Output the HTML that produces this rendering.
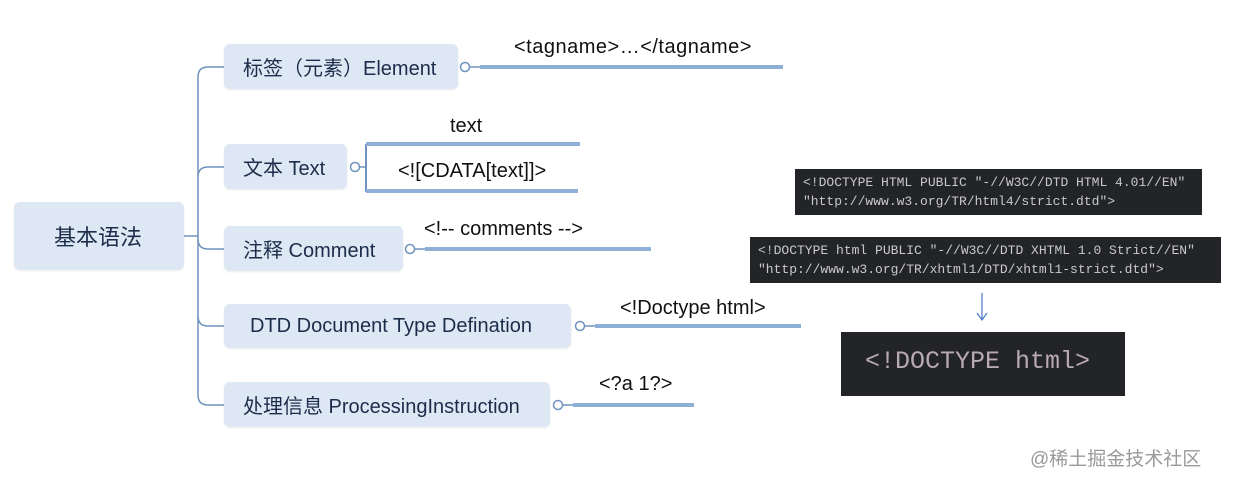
<!DOCTYPE html>
<html><head><meta charset="utf-8"><style>
body{margin:0;width:1233px;height:482px;background:#fff;position:relative;overflow:hidden;font-family:"Liberation Sans","Noto Sans CJK SC",sans-serif}
.n{position:absolute;background:#dde8f4;border-radius:6px;color:#1d2c4a;font-size:20px;display:flex;align-items:center;padding-left:19px;box-sizing:border-box;box-shadow:0 1px 2px rgba(0,0,0,.08);white-space:nowrap}
.l{position:absolute;font-size:20px;color:#111;white-space:nowrap}
.c{position:absolute;background:#222427;color:#c9c9c9;font-family:"Liberation Mono","DejaVu Sans Mono",monospace;font-size:13px;line-height:19px;padding:4px 8px;box-sizing:border-box;white-space:pre}
</style></head><body>
<svg width="1233" height="482" style="position:absolute;left:0;top:0">
<g fill="none" stroke="#6f93be" stroke-width="1.5">
<path d="M184 236 H198"/>
<path d="M224 67 H208 Q198 67 198 77 V395 Q198 405 208 405 H224"/>
<path d="M198 177 Q198 167 208 167 H224"/>
<path d="M198 239 Q198 249 208 249 H224"/>
<path d="M198 316 Q198 326 208 326 H224"/>
<circle cx="465" cy="67" r="4.5" fill="#fff"/><path d="M470 67 H480"/>
<circle cx="355" cy="167" r="4.5" fill="#fff"/><path d="M360 167 H366"/>
<circle cx="410" cy="249" r="4.5" fill="#fff"/><path d="M415 249 H425"/>
<circle cx="580" cy="326" r="4.5" fill="#fff"/><path d="M585 326 H595"/>
<circle cx="558" cy="405" r="4.5" fill="#fff"/><path d="M563 405 H573"/>
<path d="M366 144 V192" stroke-width="2"/>
</g>
<g stroke="#8fb0d6" stroke-width="4">
<path d="M480 67 H783"/><path d="M366 144 H580"/><path d="M366 191 H578"/>
<path d="M425 249 H651"/><path d="M595 326 H801"/><path d="M573 405 H694"/>
</g>
<path d="M982 293 V319 M977 313 L982 320 L987 313" stroke="#4a78c8" stroke-width="1.2" fill="none"/>
</svg>
<div class="n" style="left:14px;top:202px;width:170px;height:68px;font-size:22px;padding-left:40px">基本语法</div>
<div class="n" style="left:224px;top:44px;width:234px;height:45px">标签（元素）Element</div>
<div class="n" style="left:224px;top:144px;width:123px;height:45px">文本 Text</div>
<div class="n" style="left:224px;top:226px;width:179px;height:45px">注释 Comment</div>
<div class="n" style="left:224px;top:304px;width:347px;height:44px;padding-left:26px">DTD Document Type Defination</div>
<div class="n" style="left:224px;top:382px;width:326px;height:45px">处理信息 ProcessingInstruction</div>
<div class="l" style="left:514px;top:36px;letter-spacing:0.5px">&lt;tagname&gt;…&lt;/tagname&gt;</div>
<div class="l" style="left:450px;top:115px">text</div>
<div class="l" style="left:398px;top:160px">&lt;![CDATA[text]]&gt;</div>
<div class="l" style="left:424px;top:218px">&lt;!-- comments --&gt;</div>
<div class="l" style="left:620px;top:297px">&lt;!Doctype html&gt;</div>
<div class="l" style="left:599px;top:373px">&lt;?a 1?&gt;</div>
<div class="c" style="left:795px;top:169px;width:407px;height:46px">&lt;!DOCTYPE HTML PUBLIC "-//W3C//DTD HTML 4.01//EN"
"http://www.w3.org/TR/html4/strict.dtd"&gt;</div>
<div class="c" style="left:750px;top:237px;width:471px;height:46px">&lt;!DOCTYPE html PUBLIC "-//W3C//DTD XHTML 1.0 Strict//EN"
"http://www.w3.org/TR/xhtml1/DTD/xhtml1-strict.dtd"&gt;</div>
<div class="c" style="left:841px;top:332px;width:284px;height:64px;font-size:25px;line-height:60px;padding:0 0 0 24px;color:#b9aab0">&lt;!DOCTYPE html&gt;</div>
<div class="l" style="left:1030px;top:444px;color:#9a9a9a;font-size:19px">@稀土掘金技术社区</div>
</body></html>
